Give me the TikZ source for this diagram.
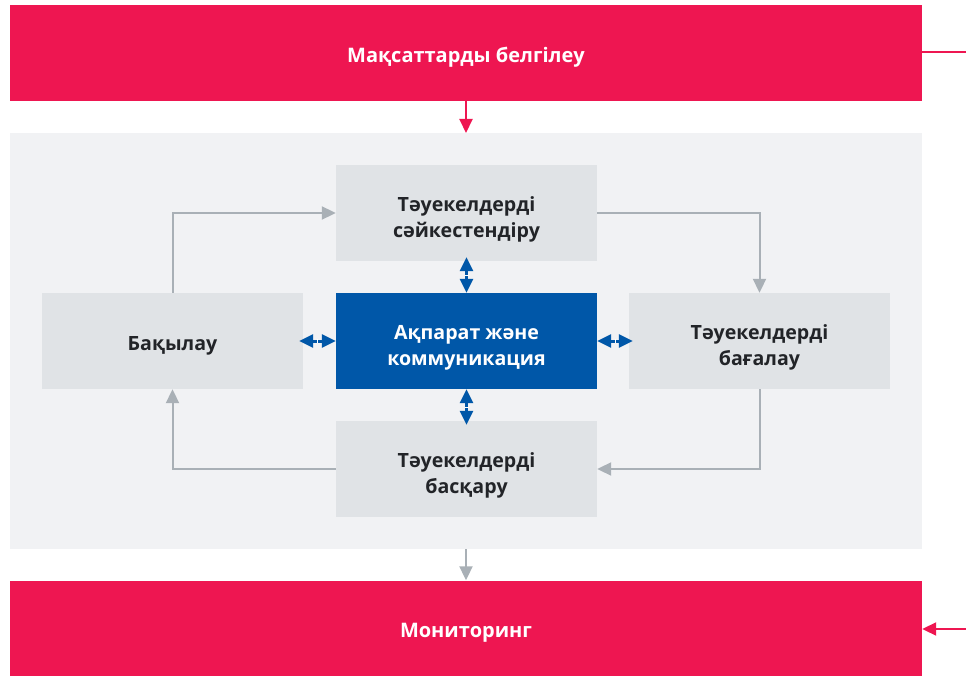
\documentclass[tikz,border=0pt]{standalone}
\usepackage{fontspec}
\setmainfont{Open Sans}
\usetikzlibrary{arrows.meta,positioning,calc}
\definecolor{riskred}{HTML}{EE1651}
\definecolor{riskblue}{HTML}{0057A8}
\definecolor{panelgray}{HTML}{F1F2F4}
\definecolor{boxgray}{HTML}{E0E3E6}
\definecolor{linegray}{HTML}{A9B0B6}
\definecolor{inkgray}{HTML}{222428}
\tikzset{
	bar/.style={fill=riskred, text=white, inner sep=0pt, text height=23pt,
			minimum width=912pt, minimum height=96pt, font=\bfseries\fontsize{20}{26}\selectfont},
	stepbox/.style={fill=boxgray, text=inkgray, inner sep=0pt, align=center, text height=23pt,
			minimum width=261pt, minimum height=96pt, font=\bfseries\fontsize{19.6}{25.5}\selectfont},
	twoline/.style={text height=53pt},
	flow/.style={draw=linegray, line width=2pt, -{Triangle[length=14pt,width=13pt]}},
	infoarrow/.style={draw=riskblue, line width=3pt, -{Triangle[length=14pt,width=13pt]}},
	redline/.style={draw=riskred, line width=2pt}
}

\begin{document}
\begin{tikzpicture}[x=1pt,y=-1pt]

			\useasboundingbox (0,0) rectangle (966,676);

			% Draw the background panel
			\fill[panelgray] (10,133) rectangle (922,549);

			% Draw the red bars
			\node[bar] (goals) at (466,53) {Мақсаттарды белгілеу};
			\node[bar] (monitor) at (466,628.5) {Мониторинг};

			% Draw the process boxes
			\node[stepbox, twoline] (ident) at (466.5,213) {Тәуекелдерді\\сәйкестендіру};
			\node[stepbox] (control) at (172.5,341) {Бақылау};
			\node[stepbox, twoline, fill=riskblue, text=white] (info) at (466.5,341) {Ақпарат және\\коммуникация};
			\node[stepbox, twoline] (assess) at (759.5,341) {Тәуекелдерді\\бағалау};
			\node[stepbox, twoline] (manage) at (466.5,469) {Тәуекелдерді\\басқару};

			% Draw the outer links
			\coordinate (outR) at (966,52);
			\coordinate (inR) at (966,629);
			\draw[redline] (goals.east |- outR) -- (outR);
			\draw[redline, -{Triangle[length=14pt,width=13pt]}] (inR) -- (monitor.east |- inR);
			\draw[redline, -{Triangle[length=14pt,width=13pt]}] (goals.south) -- (466,133);
			\draw[flow] (466,549) -- (monitor.north);

			% Draw the cycle
			\draw[flow] (control.north) |- (ident.west);
			\draw[flow] (ident.east) -| (assess.north);
			\draw[flow] (assess.south) |- (manage.east);
			\draw[flow] (manage.west) -| (control.south);

			% Draw the information arrows
			\foreach \a/\b in {info.north/ident.south, info.south/manage.north,
					info.west/control.east, info.east/assess.west} {
					\coordinate (e) at ($(\b)!-4pt!(\a)$);
					\coordinate (m) at ($(\a)!0.5!(e)$);
					\draw[infoarrow] (m) -- (\a);
					\draw[infoarrow] (m) -- (e);
					\draw[white, line width=0.8pt] ($(m)!2pt!90:(\a)$) -- ($(m)!2pt!-90:(\a)$);
				}

		\end{tikzpicture}
\end{document}
